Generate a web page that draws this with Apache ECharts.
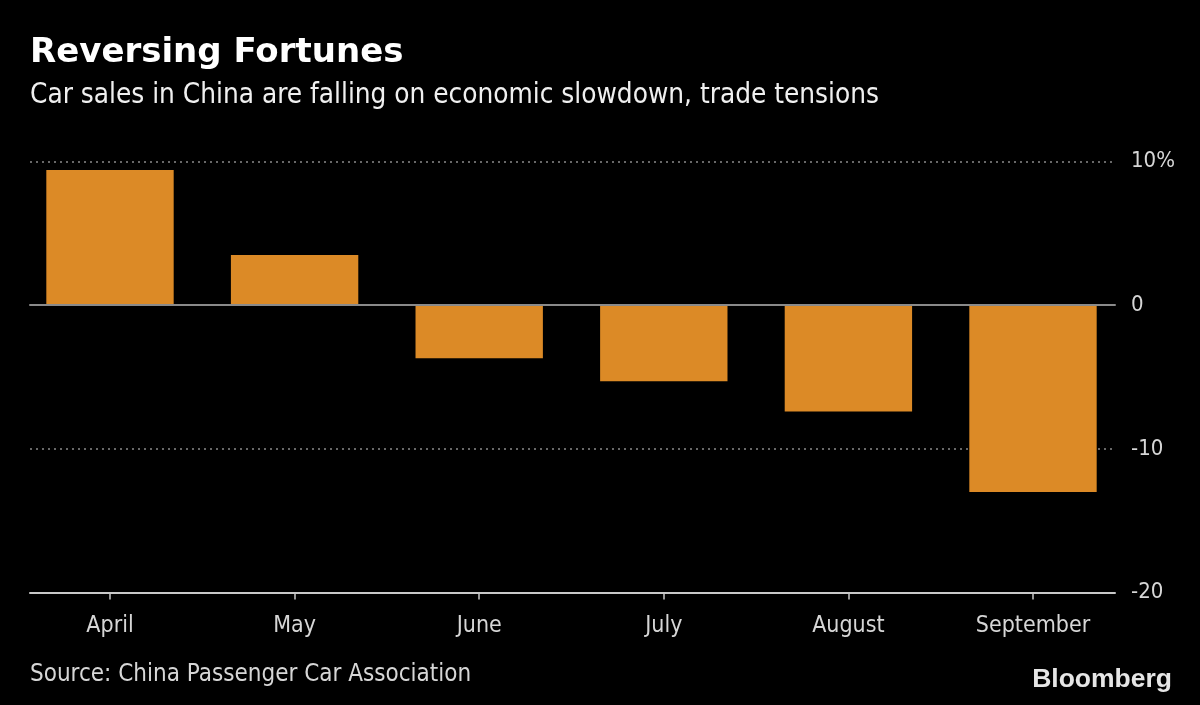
<!DOCTYPE html>
<html>
<head>
<meta charset="utf-8">
<script src="https://cdn.jsdelivr.net/npm/echarts@6/dist/echarts.min.js"></script>
<style>
html,body{margin:0;padding:0;background:#000;}
#chart{width:1200px;height:705px;}
</style>
</head>
<body>
<div id="chart"></div>
<script>
const categories = ['April', 'May', 'June', 'July', 'August', 'September'];
const salesChange = [9.4, 3.5, -3.7, -5.3, -7.4, -13.0];
const yTickLabels = { '10': '10%', '0': '0', '-10': '-10', '-20': '-20' };

const FONT = '"DejaVu Sans Condensed", "DejaVu Sans", sans-serif';
const chart = echarts.init(document.getElementById('chart'));

const gridTop = 161.5, gridBottom = 112.5;

chart.setOption({
  backgroundColor: '#000',
  animation: false,
  title: [
    { text: 'Reversing Fortunes', left: 25, top: 31, padding: 5,
      textStyle: { color: '#fff', fontFamily: '"DejaVu Sans", sans-serif', fontWeight: 'bold', fontSize: 34 } },
    { text: 'Car sales in China are falling on economic slowdown, trade tensions', left: 25, top: 77,
      textStyle: { color: '#f0f0f0', fontFamily: FONT, fontWeight: 'normal', fontSize: 27.7 } },
    { text: 'Source: China Passenger Car Association', left: 25, top: 658,
      textStyle: { color: '#d6d6d6', fontFamily: FONT, fontWeight: 'normal', fontSize: 24 } },
    { text: 'Bloomberg', right: 23, top: 661,
      textStyle: { color: '#e6e6e6', fontFamily: '"Liberation Sans", Arial, sans-serif', fontWeight: 'bold', fontSize: 26.5 } }
  ],
  grid: [
    { left: 17.7, right: 74.7, top: gridTop, bottom: gridBottom },
    { left: 30, right: 85, top: gridTop, bottom: gridBottom }
  ],
  xAxis: [
    { type: 'category', gridIndex: 0, data: categories,
      axisLine: { show: false, onZero: false },
      axisTick: { show: true, alignWithLabel: true, length: 7, lineStyle: { color: '#c8c8c8', width: 1.5 } },
      axisLabel: { color: '#d6d6d6', fontFamily: FONT, fontSize: 23, margin: 22 } },
    { type: 'value', gridIndex: 1, min: 0, max: 1, position: 'bottom', z: 6,
      axisLine: { show: true, onZero: true, lineStyle: { color: '#8a8a8a', width: 2 } },
      axisTick: { show: false }, axisLabel: { show: false }, splitLine: { show: false } },
    { type: 'value', gridIndex: 1, min: 0, max: 1, position: 'bottom', z: 6,
      axisLine: { show: true, onZero: false, lineStyle: { color: '#c8c8c8', width: 2 } },
      axisTick: { show: false }, axisLabel: { show: false }, splitLine: { show: false } }
  ],
  yAxis: [
    { type: 'value', gridIndex: 0, min: -20, max: 10, interval: 10, show: false },
    { type: 'value', gridIndex: 1, min: -20, max: 10, interval: 10, position: 'right',
      axisLine: { show: false }, axisTick: { show: false },
      axisLabel: { color: '#d6d6d6', fontFamily: FONT, fontSize: 22, margin: 16, align: 'left',
        padding: [6, 0, 0, 0], formatter: v => yTickLabels[String(v)] },
      splitLine: { show: true, lineStyle: { color: '#8a8a8a', type: [2, 4], width: 1.5 } } }
  ],
  series: [
    { type: 'bar', xAxisIndex: 0, yAxisIndex: 0, data: salesChange, barWidth: '69%',
      itemStyle: { color: '#dc8a26' } }
  ]
});
</script>
</body>
</html>
